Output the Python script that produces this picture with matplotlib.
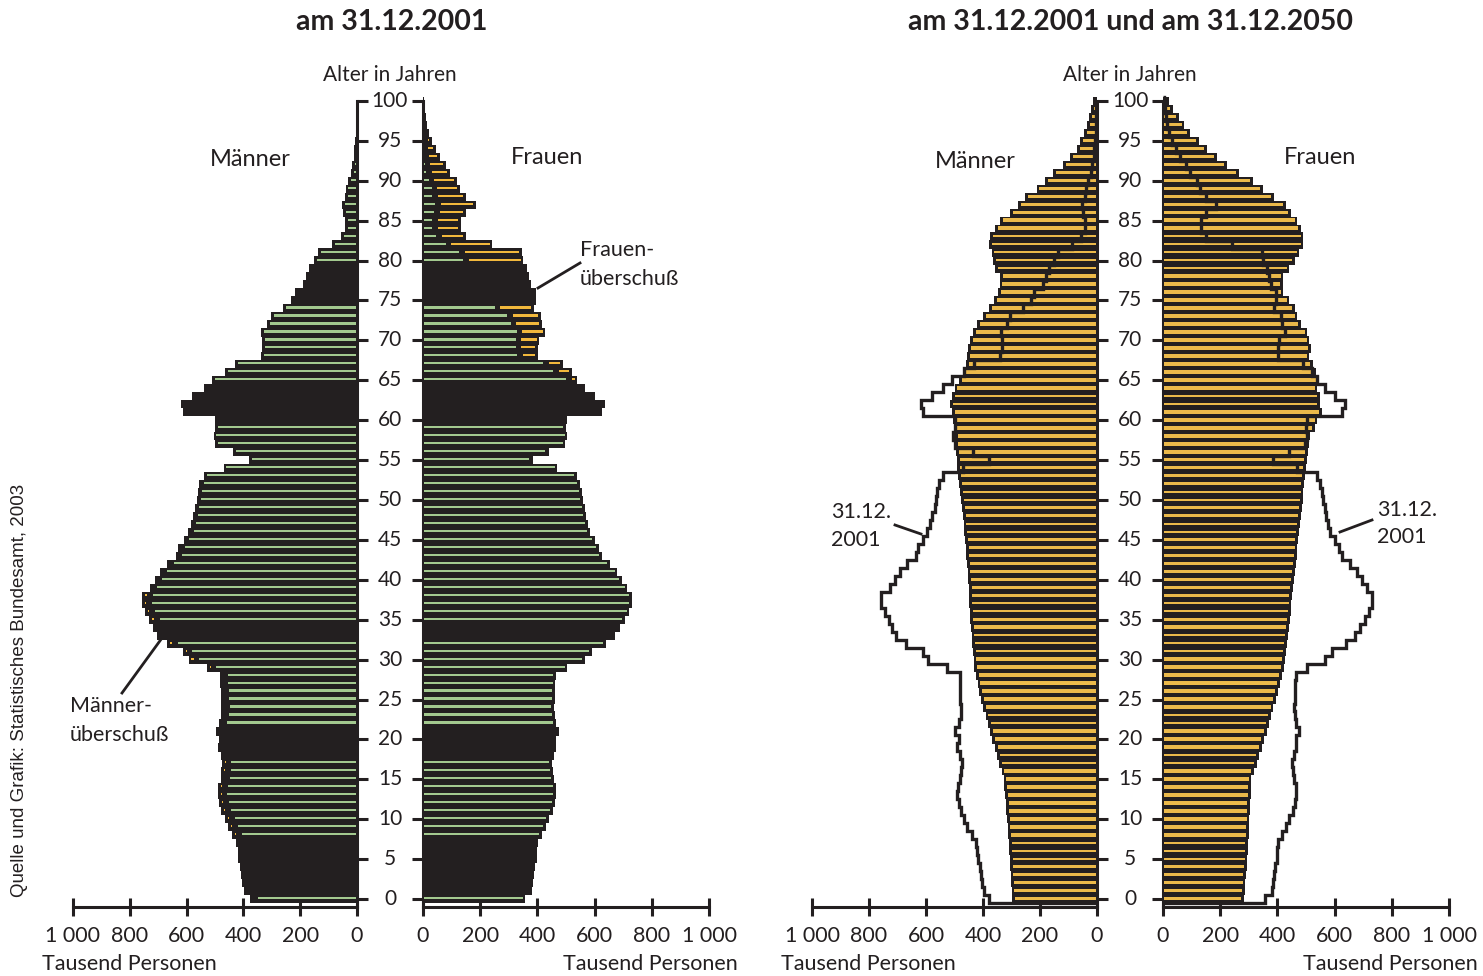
import numpy as np
import matplotlib
matplotlib.use("Agg")
import matplotlib.pyplot as plt
from matplotlib.lines import Line2D
from matplotlib.transforms import blended_transform_factory

W, H = 1483, 976
BLACK = '#231f20'
GREEN = '#a3c98f'
ORANGE = '#f2b83c'
ORANGE_R = '#ebb94a'
FONT = ['Lato', 'DejaVu Sans']

ages = np.arange(101)

# thousand persons, age 0 .. 100
men_2001 = [378, 398, 405, 408, 412, 418, 420, 425, 440, 455,
            465, 478, 485, 490, 488, 480, 478, 475, 480, 490,
            485, 498, 485, 478, 478, 480, 480, 481, 481, 528,
            593, 612, 669, 705, 720, 731, 745, 757, 757, 728,
            710, 692, 668, 636, 629, 610, 595, 585, 578, 570,
            565, 560, 555, 540, 470, 380, 435, 500, 505, 500,
            500, 612, 618, 580, 540, 510, 465, 430, 339, 334,
            334, 337, 316, 304, 260, 233, 220, 190, 180, 170,
            151, 137, 89, 56, 42, 42, 50, 53, 42, 40,
            30, 22, 16, 12, 9, 7, 5, 4, 3, 2, 1]
women_2001 = [358, 380, 385, 388, 392, 398, 400, 402, 415, 430,
              440, 455, 462, 466, 465, 458, 455, 452, 458, 466,
              465, 475, 466, 460, 458, 460, 462, 463, 465, 505,
              565, 590, 640, 672, 690, 705, 722, 732, 730, 715,
              695, 680, 655, 625, 615, 600, 585, 577, 570, 565,
              560, 555, 550, 538, 470, 385, 440, 498, 505, 500,
              505, 625, 635, 600, 565, 540, 522, 489, 401, 401,
              407, 428, 416, 413, 389, 395, 395, 378, 370, 365,
              351, 346, 243, 150, 132, 132, 151, 185, 151, 130,
              120, 95, 80, 60, 45, 30, 22, 15, 10, 6, 4]
men_2050 = [298, 300, 302, 303, 305, 306, 308, 310, 312, 314,
            316, 318, 320, 322, 325, 328, 335, 343, 351, 359,
            367, 375, 383, 391, 399, 406, 413, 419, 425, 430,
            433, 436, 438, 440, 442, 444, 446, 448, 450, 450,
            452, 454, 456, 458, 460, 462, 465, 468, 470, 473,
            476, 480, 483, 486, 490, 492, 494, 496, 498, 500,
            505, 510, 515, 510, 500, 485, 470, 460, 455, 452,
            445, 435, 420, 400, 380, 360, 348, 342, 340, 358,
            365, 370, 379, 375, 358, 340, 305, 277, 253, 212,
            182, 154, 118, 95, 70, 60, 46, 36, 27, 22, 15]
women_2050 = [284, 286, 288, 290, 292, 295, 297, 298, 300, 301,
              302, 303, 304, 306, 307, 309, 318, 327, 336, 345,
              354, 362, 370, 378, 386, 394, 402, 410, 416, 422,
              426, 430, 434, 437, 440, 443, 446, 449, 452, 455,
              458, 461, 464, 467, 470, 473, 476, 479, 482, 485,
              488, 491, 494, 497, 500, 503, 506, 510, 515, 530,
              540, 555, 550, 548, 540, 545, 536, 523, 512, 518,
              512, 505, 483, 470, 460, 442, 421, 418, 421, 442,
              460, 477, 491, 491, 483, 470, 448, 430, 389, 349,
              313, 265, 225, 190, 155, 125, 95, 75, 55, 35, 22]

age_ticks = list(range(0, 101, 5))
x_ticks = [0, 200, 400, 600, 800, 1000]
x_tick_labels = ['0', '200', '400', '600', '800', '1 000']

# ages printed solid black (no light stripe)
dark_2001 = [1, 2, 3, 4, 5, 6, 7, 18, 19, 20, 21, 33, 34, 60, 61, 62, 63, 64,
             75, 76, 77, 78, 79]
thin_2050 = [5, 6, 7, 17, 18, 22, 23, 31, 32, 33, 36, 37, 46, 47, 50, 51,
             62, 63, 79, 80, 81, 82, 83]

INSET = 10
START = 5

fig = plt.figure(figsize=(W / 100, H / 100), dpi=100)
fig.patch.set_facecolor('white')


def px_axes(x0, x1):
    # age -1 at 907 px, age 101 at 93 px
    return fig.add_axes([x0 / W, 1 - 907 / H, (x1 - x0) / W, (907 - 93) / H])


def fig_text(x, y, s, **kw):
    kw.setdefault('family', FONT)
    kw.setdefault('color', BLACK)
    fig.text(x / W, 1 - y / H, s, **kw)


def fig_line(x0, y0, x1, y1):
    fig.add_artist(Line2D([x0 / W, x1 / W], [1 - y0 / H, 1 - y1 / H],
                          transform=fig.transFigure, color=BLACK, lw=2.0))


def style(ax, side):
    ax.set_ylim(-1, 101)
    ax.patch.set_alpha(0)
    ax.spines['top'].set_visible(False)
    if side == 'men':
        ax.set_xlim(1000, 0)
        ax.spines['left'].set_visible(False)
        vs = ax.spines['right']
        ax.yaxis.tick_right()
    else:
        ax.set_xlim(0, 1000)
        ax.spines['right'].set_visible(False)
        vs = ax.spines['left']
    vs.set_bounds(-1, 100)
    vs.set_linewidth(2.2)
    vs.set_color(BLACK)
    ax.spines['bottom'].set_linewidth(2.2)
    ax.spines['bottom'].set_color(BLACK)
    ax.set_xticks(x_ticks)
    ax.set_xticklabels(x_tick_labels, family=FONT)
    ax.tick_params(axis='x', direction='inout', length=13, width=2.2,
                   labelsize=15.5, pad=7, colors=BLACK)
    ax.set_yticks(age_ticks)
    ax.set_yticklabels([])
    ax.tick_params(axis='y', direction='out', length=8, width=2.2, colors=BLACK)


def age_labels(ax):
    tr = blended_transform_factory(ax.transAxes, ax.transData)
    for a in age_ticks:
        ax.text(1.116, a, str(a), transform=tr, ha='center', va='center',
                fontsize=15, family=FONT, color=BLACK)


def draw_2001(ax, own, other):
    own = np.asarray(own, float)
    other = np.asarray(other, float)
    ax.barh(ages, own, height=1.04, color=BLACK, linewidth=0, zorder=2)
    lit = ~np.isin(ages, dark_2001)
    common = np.minimum(own, other)
    g_len = np.clip(common - INSET - START, 0, None)
    ax.barh(ages[lit] + 0.12, g_len[lit], left=START, height=0.27,
            color=GREEN, linewidth=0, zorder=3)
    o_left = common + INSET
    o_len = np.clip(own - INSET - o_left, 0, None)
    ax.barh(ages[lit] + 0.12, o_len[lit], left=o_left[lit], height=0.27,
            color=ORANGE, linewidth=0, zorder=3)


def draw_2050(ax, v50, v01):
    v50 = np.asarray(v50, float)
    ax.barh(ages, v50, height=1.04, color=BLACK, linewidth=0, zorder=2)
    thin = np.isin(ages, thin_2050)
    heights = np.where(thin, 0.25, 0.45)
    ax.barh(ages + 0.05, np.clip(v50 - INSET - START, 0, None), left=START,
            height=heights, color=ORANGE_R, linewidth=0, zorder=3)
    ax.stairs(v01, np.arange(-0.5, 101.5), orientation='horizontal',
              baseline=0, color=BLACK, lw=2.4, zorder=4)


# left chart: 2001
ax_m1 = px_axes(73, 357)
ax_f1 = px_axes(423, 709)
style(ax_m1, 'men')
style(ax_f1, 'women')
draw_2001(ax_m1, men_2001, women_2001)
draw_2001(ax_f1, women_2001, men_2001)
age_labels(ax_m1)

# right chart: 2050 with 2001 outline
ax_m2 = px_axes(812, 1097)
ax_f2 = px_axes(1163, 1449)
style(ax_m2, 'men')
style(ax_f2, 'women')
draw_2050(ax_m2, men_2050, men_2001)
draw_2050(ax_f2, women_2050, women_2001)
age_labels(ax_m2)

# titles and labels
fig_text(392, 22, 'am 31.12.2001', ha='center', va='center', fontsize=20.5,
         weight='bold')
fig_text(1130, 22, 'am 31.12.2001 und am 31.12.2050', ha='center',
         va='center', fontsize=20.5, weight='bold')
for cx in (390, 1130):
    fig_text(cx, 75, 'Alter in Jahren', ha='center', va='center', fontsize=15)

fig_text(250, 160, 'Männer', ha='center', va='center', fontsize=17)
fig_text(547, 158, 'Frauen', ha='center', va='center', fontsize=17)
fig_text(975, 162, 'Männer', ha='center', va='center', fontsize=17)
fig_text(1320, 158, 'Frauen', ha='center', va='center', fontsize=17)

for ax, side in ((ax_m1, 'men'), (ax_f1, 'women'), (ax_m2, 'men'), (ax_f2, 'women')):
    if side == 'men':
        ax.text(-0.11, -0.07, 'Tausend Personen', transform=ax.transAxes,
                ha='left', va='center', fontsize=15.5, family=FONT, color=BLACK)
    else:
        ax.text(1.1, -0.07, 'Tausend Personen', transform=ax.transAxes,
                ha='right', va='center', fontsize=15.5, family=FONT, color=BLACK)

fig_text(580, 250, 'Frauen-', ha='left', va='center', fontsize=15.5)
fig_text(580, 279, 'überschuß', ha='left', va='center', fontsize=15.5)
fig_line(580, 263, 538, 288)

fig_text(70, 706, 'Männer-', ha='left', va='center', fontsize=15.5)
fig_text(70, 735, 'überschuß', ha='left', va='center', fontsize=15.5)
fig_line(122, 693, 162, 638)

fig_text(831, 512, '31.12.', ha='left', va='center', fontsize=15.5)
fig_text(831, 540, '2001', ha='left', va='center', fontsize=15.5)
fig_line(895, 525, 921, 534)

fig_text(1377, 510, '31.12.', ha='left', va='center', fontsize=15.5)
fig_text(1377, 537, '2001', ha='left', va='center', fontsize=15.5)
fig_line(1340, 532, 1372, 520)

fig_text(20, 690, 'Quelle und Grafik: Statistisches Bundesamt, 2003',
         rotation=90, ha='center', va='center', fontsize=13.5,
         family=['Liberation Sans', 'DejaVu Sans'])

fig.savefig('out.png', dpi=100, facecolor='white')
